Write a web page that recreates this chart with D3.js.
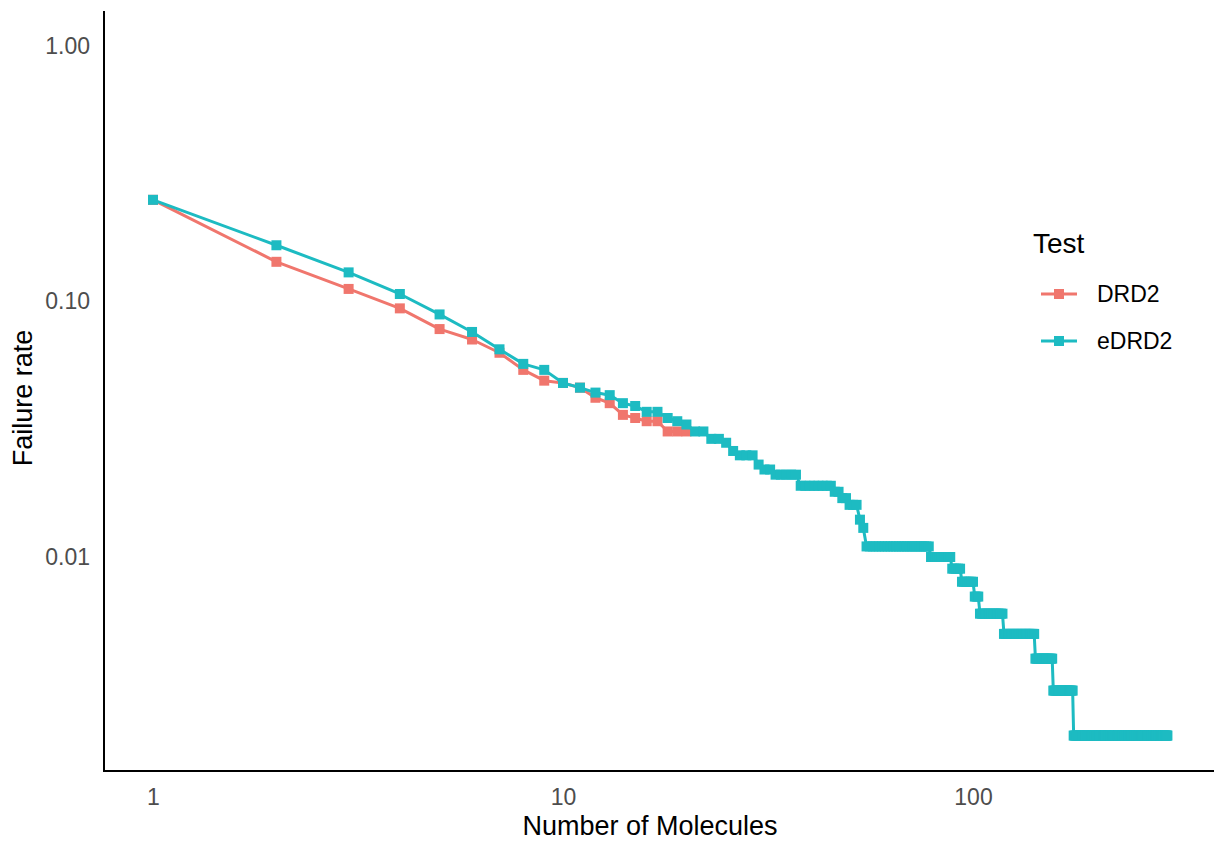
<!DOCTYPE html>
<html>
<head>
<meta charset="utf-8">
<script src="https://cdn.jsdelivr.net/npm/d3@7"></script>
<style>
  body { margin: 0; background: #fff; }
  svg { font-family: "Liberation Sans", Arial, sans-serif; }
</style>
</head>
<body>
<svg width="1214" height="841"></svg>
<script>
const width = 1214;
const height = 841;

// DRD2: failure rate for n = 1..20 molecules
const drd2Rates = [0.25, 0.143, 0.112, 0.094, 0.078, 0.071, 0.063, 0.054, 0.049, 0.048,
                   0.046, 0.042, 0.040, 0.036, 0.035, 0.034, 0.034, 0.031, 0.031, 0.031];

// eDRD2: runs of [from n, to n, failure rate]
const edrd2Runs = [
    [1, 1, 0.25], [2, 2, 0.166], [3, 3, 0.130], [4, 4, 0.107], [5, 5, 0.089],
    [6, 6, 0.076], [7, 7, 0.065], [8, 8, 0.057], [9, 9, 0.054], [10, 10, 0.048],
    [11, 11, 0.046], [12, 12, 0.044], [13, 13, 0.043], [14, 14, 0.040], [15, 15, 0.039],
    [16, 17, 0.037], [18, 18, 0.035], [19, 19, 0.034], [20, 20, 0.033], [21, 22, 0.031],
    [23, 24, 0.029], [25, 25, 0.028], [26, 26, 0.026], [27, 29, 0.025], [30, 30, 0.023],
    [31, 32, 0.022], [33, 37, 0.021], [38, 45, 0.019], [46, 47, 0.018], [48, 49, 0.017],
    [50, 52, 0.016], [53, 53, 0.014], [54, 54, 0.013], [55, 78, 0.011], [79, 88, 0.010],
    [89, 93, 0.009], [94, 100, 0.008], [101, 103, 0.007], [104, 118, 0.006],
    [119, 141, 0.005], [142, 156, 0.004], [157, 175, 0.003], [176, 298, 0.002]
];

const xTicks = [1, 10, 100];
const yTicks = [1, 0.1, 0.01];
const testNames = ["DRD2", "eDRD2"];
const colors = ["#F0766D", "#1DBBC2"];

const drd2 = drd2Rates.map((v, i) => ({ n: i + 1, rate: v }));
const edrd2 = [];
edrd2Runs.forEach(([a, b, v]) => {
    for (let n = a; n <= b; n++) edrd2.push({ n: n, rate: v });
});
const series = [drd2, edrd2];

const svg = d3.select("svg");

const panel = { left: 104, right: width, top: 11, bottom: 771 };

const x = d3.scaleLog().domain([1, 100]).range([153, 973]);
const y = d3.scaleLog().domain([1, 0.01]).range([46, 557]);

// axes
const xAxis = svg.append("g")
    .attr("transform", `translate(0,${panel.bottom})`)
    .call(d3.axisBottom(x).tickValues(xTicks).tickFormat(d3.format("d")).tickSize(0).tickPadding(18));
const yAxis = svg.append("g")
    .attr("transform", `translate(${panel.left},0)`)
    .call(d3.axisLeft(y).tickValues(yTicks).tickFormat(d3.format(".2f")).tickSize(0).tickPadding(14));
[xAxis, yAxis].forEach(g => {
    g.select(".domain").remove();
    g.selectAll("text").attr("font-size", 23).attr("fill", "#4D4D4D")
        .attr("font-family", "Liberation Sans, Arial, sans-serif");
});

svg.append("line")
    .attr("x1", panel.left).attr("x2", panel.left)
    .attr("y1", panel.top).attr("y2", panel.bottom + 1)
    .attr("stroke", "#000").attr("stroke-width", 2);
svg.append("line")
    .attr("x1", panel.left - 1).attr("x2", panel.right)
    .attr("y1", panel.bottom).attr("y2", panel.bottom)
    .attr("stroke", "#000").attr("stroke-width", 2);

// lines and points
const line = d3.line().x(d => x(d.n)).y(d => y(d.rate));
const ms = 10;

series.forEach((data, i) => {
    const g = svg.append("g");
    g.append("path")
        .datum(data)
        .attr("d", line)
        .attr("fill", "none")
        .attr("stroke", colors[i])
        .attr("stroke-width", 3)
        .attr("stroke-linejoin", "round");
    g.selectAll("rect")
        .data(data)
        .enter()
        .append("rect")
        .attr("x", d => x(d.n) - ms / 2)
        .attr("y", d => y(d.rate) - ms / 2)
        .attr("width", ms)
        .attr("height", ms)
        .attr("fill", colors[i]);
});

// axis titles
svg.append("text")
    .attr("x", 650).attr("y", 835)
    .attr("text-anchor", "middle")
    .attr("font-size", 27)
    .text("Number of Molecules");
svg.append("text")
    .attr("transform", "translate(32,398) rotate(-90)")
    .attr("text-anchor", "middle")
    .attr("font-size", 27)
    .text("Failure rate");

// legend
const legend = svg.append("g");
legend.append("text")
    .attr("x", 1033).attr("y", 253)
    .attr("font-size", 28)
    .text("Test");
testNames.forEach((name, i) => {
    const cy = 294 + i * 47;
    legend.append("line")
        .attr("x1", 1041).attr("x2", 1077)
        .attr("y1", cy).attr("y2", cy)
        .attr("stroke", colors[i]).attr("stroke-width", 3);
    legend.append("rect")
        .attr("x", 1059 - ms / 2).attr("y", cy - ms / 2)
        .attr("width", ms).attr("height", ms)
        .attr("fill", colors[i]);
    legend.append("text")
        .attr("x", 1097).attr("y", cy + 8)
        .attr("font-size", 23)
        .text(name);
});
</script>
</body>
</html>
